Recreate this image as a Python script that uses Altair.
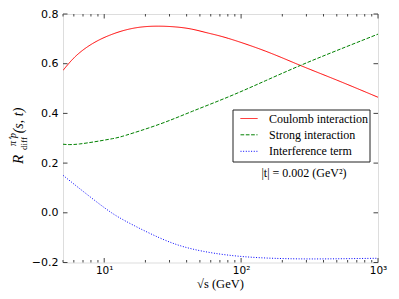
import altair as alt
import pandas as pd

# ---- data ----
coul_x = [5, 6.24, 8.22, 10.9, 14.4, 19.0, 25.1, 33.1, 43.7, 57.7, 80.5, 150, 271, 500, 1000]
coul_y = [0.573, 0.632, 0.681, 0.714, 0.736, 0.748, 0.751, 0.748, 0.739, 0.723, 0.702, 0.651, 0.593, 0.534, 0.465]

strong_x = [5, 6.6, 10.9, 14.4, 25.2, 44.3, 82, 150, 271, 500, 1000]
strong_y = [0.276, 0.277, 0.296, 0.312, 0.356, 0.409, 0.468, 0.531, 0.593, 0.653, 0.719]

int_x = [5, 6.56, 10, 14.4, 25.2, 44.3, 97.3, 239, 500, 1000]
int_y = [0.151, 0.099, 0.021, -0.034, -0.100, -0.146, -0.175, -0.185, -0.185, -0.183]

x_major = [10, 100, 1000]
x_minor = [5, 6, 7, 8, 9, 20, 30, 40, 50, 60, 70, 80, 90, 200, 300, 400, 500, 600, 700, 800, 900]
y_major = [-0.2, 0.0, 0.2, 0.4, 0.6, 0.8]

legend_labels = ["Coulomb interaction", "Strong interaction", "Interference term"]
legend_colors = ["#ff0000", "#008000", "#0000ff"]
legend_dashes = [[1, 0], [3.7, 1.6], [1, 1.65]]
annotation = "|t| = 0.002 (GeV²)"

# ---- layout ----
W, H = 315, 248.5
TOP = 6
FRAME = "#444444"
SERIF = "Liberation Serif"
dy = 12.5 - (8 + TOP)  # keep page positions of the overlay items

xscale = alt.Scale(type="log", domain=[5, 1000], nice=False)
yscale = alt.Scale(domain=[-0.2, 0.8], nice=False, zero=False)

xaxis = alt.Axis(values=x_major, tickSize=0, domain=False, grid=False, title=None,
                 labelExpr="datum.value == 10 ? '10¹' : (datum.value == 100 ? '10²' : '10³')",
                 labelFont="DejaVu Sans", labelFontSize=10.5, labelColor="black",
                 labelPadding=3, labelFlush=False, labelOverlap=False)
yaxis = alt.Axis(values=y_major, tickSize=0, domain=False, grid=False, title=None,
                 labelExpr="replace(format(datum.value, '.1f'), '-', '−')",
                 labelFont="DejaVu Sans", labelFontSize=11, labelColor="black",
                 labelPadding=5, labelFlush=False, labelOverlap=False)


def line(xs, ys, color, dash):
    df = pd.DataFrame({"x": xs, "y": ys})
    return alt.Chart(df).mark_line(color=color, strokeWidth=1, strokeDash=dash,
                                   interpolate="natural", clip=True).encode(
        x=alt.X("x:Q", scale=xscale, axis=xaxis),
        y=alt.Y("y:Q", scale=yscale, axis=yaxis),
    )


lines = [
    line(coul_x, coul_y, legend_colors[0], legend_dashes[0]),
    line(strong_x, strong_y, legend_colors[1], legend_dashes[1]),
    line(int_x, int_y, legend_colors[2], legend_dashes[2]),
]

# ---- inward ticks ----
def xticks(vals, length):
    df = pd.DataFrame({"v": vals})
    bottom = alt.Chart(df).mark_rule(color=FRAME, strokeWidth=1).encode(
        x=alt.X("v:Q", scale=xscale, axis=xaxis), y=alt.value(H), y2=alt.value(H - length))
    top = alt.Chart(df).mark_rule(color=FRAME, strokeWidth=1).encode(
        x=alt.X("v:Q", scale=xscale, axis=xaxis), y=alt.value(0), y2=alt.value(length))
    return [bottom, top]


def yticks(vals, length):
    df = pd.DataFrame({"v": vals})
    left = alt.Chart(df).mark_rule(color=FRAME, strokeWidth=1).encode(
        y=alt.Y("v:Q", scale=yscale, axis=yaxis), x=alt.value(0), x2=alt.value(length))
    right = alt.Chart(df).mark_rule(color=FRAME, strokeWidth=1).encode(
        y=alt.Y("v:Q", scale=yscale, axis=yaxis), x=alt.value(W), x2=alt.value(W - length))
    return [left, right]


ticks = xticks(x_major, 4.5) + xticks(x_minor, 2.5) + yticks(y_major, 4.5)

# ---- legend ----
LX0, LX1, LY0, LY1 = 170, 307, 97.5 + dy, 149.5 + dy
one = pd.DataFrame({"a": [0]})
legend_box = alt.Chart(one).mark_rect(fill="white", stroke="#222222", strokeWidth=1).encode(
    x=alt.value(LX0), x2=alt.value(LX1), y=alt.value(LY0), y2=alt.value(LY1))

legend_layers = [legend_box]
entry_y = [106 + dy, 122.3 + dy, 138.8 + dy]
for lab, col, dash, ey in zip(legend_labels, legend_colors, legend_dashes, entry_y):
    legend_layers.append(
        alt.Chart(one).mark_rule(color=col, strokeWidth=1, strokeDash=dash).encode(
            x=alt.value(177.5), x2=alt.value(194.5), y=alt.value(ey)))
    legend_layers.append(
        alt.Chart(one).mark_text(text=lab, font=SERIF, fontSize=12, align="left",
                                 baseline="middle", color="black").encode(
            x=alt.value(206), y=alt.value(ey)))

legend_layers.append(
    alt.Chart(one).mark_text(text=annotation, font=SERIF, fontSize=12, align="center",
                             baseline="middle", color="black").encode(
        x=alt.value(241), y=alt.value(160.5 + dy)))

# ---- axis titles ----
titles = [
    alt.Chart(one).mark_text(text="√s (GeV)", font=SERIF, fontSize=12.5, align="center",
                             baseline="alphabetic", color="black").encode(
        x=alt.value(157.5), y=alt.value(275 + dy)),
    alt.Chart(one).mark_text(text="R", font=SERIF, fontStyle="italic", fontSize=15, angle=270,
                             align="center", baseline="alphabetic", color="black").encode(
        x=alt.value(-40), y=alt.value(147 + dy)),
    alt.Chart(one).mark_text(text="diff", font=SERIF, fontSize=9, angle=270,
                             align="center", baseline="alphabetic", color="black").encode(
        x=alt.value(-36.5), y=alt.value(131 + dy)),
    alt.Chart(one).mark_text(text="π⁺p", font=SERIF, fontStyle="italic", fontSize=10, angle=270,
                             align="center", baseline="alphabetic", color="black").encode(
        x=alt.value(-47), y=alt.value(127 + dy)),
    alt.Chart(one).mark_text(text="(s, t)", font=SERIF, fontStyle="italic", fontSize=14, angle=270,
                             align="center", baseline="alphabetic", color="black").encode(
        x=alt.value(-40), y=alt.value(108 + dy)),
]

chart = alt.layer(*lines, *ticks, *legend_layers, *titles).properties(
    width=W, height=H,
    autosize=alt.AutoSizeParams(type="none"),
    padding={"left": 55, "top": TOP, "right": 13, "bottom": 283 - TOP - H},
).configure_view(stroke=FRAME, strokeWidth=1.5).configure(background="white")

chart.save("out.html", embed_options={"renderer": "svg", "actions": False})
